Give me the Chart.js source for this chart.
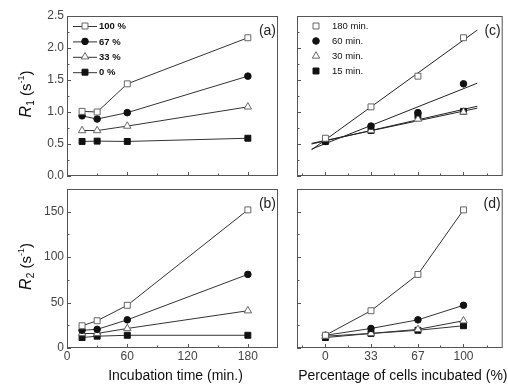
<!DOCTYPE html>
<html lang="en">
<head>
<meta charset="UTF-8">
<title>R1 / R2 vs incubation</title>
<script src="https://cdn.jsdelivr.net/npm/chart.js"></script>
<style>
  body { margin: 0; background: #fff; }
  #wrap { position: relative; width: 508px; height: 384px; }
  #wrap canvas { position: absolute; left: 0; top: 0; }
</style>
</head>
<body>
<div id="wrap">
  <canvas id="chartA" width="508" height="384"></canvas>
  <canvas id="chartB" width="508" height="384"></canvas>
  <canvas id="chartC" width="508" height="384"></canvas>
  <canvas id="chartD" width="508" height="384"></canvas>
</div>
<script>
// ---- data ----
var times = [15, 30, 60, 180];          // incubation time (min.)
var percents = [0, 33, 67, 100];        // percentage of cells incubated
var pctLabels = ['100 %', '67 %', '33 %', '0 %'];
var timeLabels = ['180 min.', '60 min.', '30 min.', '15 min.'];

// R1 (s-1) vs time, one array per percentage
var r1Pct100 = [1.01, 1.00, 1.44, 2.16];
var r1Pct67 = [0.94, 0.89, 0.99, 1.56];
var r1Pct33 = [0.71, 0.71, 0.78, 1.08];
var r1Pct0 = [0.54, 0.545, 0.54, 0.59];

// R2 (s-1) vs time, one array per percentage
var r2Pct100 = [24.5, 30, 47, 152];
var r2Pct67 = [19.5, 20.5, 31, 81];
var r2Pct33 = [16, 16, 21.5, 41];
var r2Pct0 = [11.5, 13, 14, 14];

// linear fits drawn in panel (c), ends
var fitRange = [-10, 110];
var r1Fit180 = [0.41, 2.28];
var r1Fit60 = [0.42, 1.45];
var r1Fit30 = [0.51, 1.06];
var r1Fit15 = [0.50, 1.09];

// tick labels
var timeTicks = [0, 60, 120, 180];
var pctTicks = [0, 33, 67, 100];
var r1Ticks = [0, 0.5, 1, 1.5, 2, 2.5];
var r2Ticks = [0, 50, 100, 150];
var timeMinor = [30, 90, 150];
var pctMinor = [-16.7, 16.7, 50, 83.3, 116.7];
var r1Minor = [0.25, 0.75, 1.25, 1.75, 2.25];
var r2Minor = [25, 75, 125];

// ---- styles ----
var FAM = '"Liberation Sans", Arial, sans-serif';
Chart.defaults.font.family = FAM;
var markers = [
  { shape: 'rect', r: 4.2, fill: '#fff', stroke: '#666' },
  { shape: 'circle', r: 3.3, fill: '#111', stroke: '#111' },
  { shape: 'triangle', r: 4.3, fill: '#fff', stroke: '#666' },
  { shape: 'rect', r: 4.2, fill: '#111', stroke: '#111' }
];

function pts(xs, ys) {
  return xs.map(function (x, i) { return { x: x, y: ys[i] }; });
}
// one column of the time x percent table, ordered by percentage
function column(rows, j) {
  return rows.map(function (r) { return r[j]; });
}

function seriesSet(label, xs, ys, k, showLine) {
  var m = markers[k];
  return {
    label: label, data: pts(xs, ys), showLine: showLine,
    borderColor: '#333', borderWidth: 1, tension: 0,
    pointStyle: m.shape, pointRadius: m.r, pointHoverRadius: m.r,
    pointBackgroundColor: m.fill, pointBorderColor: m.stroke, pointBorderWidth: 1
  };
}
function fitSet(ys) {
  return {
    label: '', isFit: true, data: pts(fitRange, ys), showLine: true,
    borderColor: '#222', borderWidth: 1, pointRadius: 0
  };
}

function drawMarker(ctx, m, x, y) {
  ctx.save();
  ctx.fillStyle = m.fill; ctx.strokeStyle = m.stroke; ctx.lineWidth = 1;
  ctx.beginPath();
  if (m.shape === 'rect') {
    var h = m.r * Math.SQRT1_2;
    ctx.rect(x - h, y - h, 2 * h, 2 * h);
  } else if (m.shape === 'circle') {
    ctx.arc(x, y, m.r, 0, Math.PI * 2);
  } else {
    for (var k = 0; k < 3; k++) {
      var ang = k * 2 * Math.PI / 3;
      var px = x + Math.sin(ang) * m.r, py = y - Math.cos(ang) * m.r;
      if (k) ctx.lineTo(px, py); else ctx.moveTo(px, py);
    }
    ctx.closePath();
  }
  ctx.fill(); ctx.stroke();
  ctx.restore();
}

function drawYTitle(ctx, sub, cx, cy) {
  ctx.save();
  ctx.translate(cx, cy);
  ctx.rotate(-Math.PI / 2);
  ctx.fillStyle = '#111';
  ctx.textBaseline = 'alphabetic';
  ctx.textAlign = 'left';
  var parts = [
    ['italic 16px ' + FAM, 'R', 0],
    ['10px ' + FAM, sub, 3],
    ['15px ' + FAM, ' (s', 0],
    ['9px ' + FAM, '-1', -7],
    ['15px ' + FAM, ')', 0]
  ];
  var w = 0;
  parts.forEach(function (p) { ctx.font = p[0]; p.push(ctx.measureText(p[1]).width); w += p[3]; });
  var x = -w / 2;
  parts.forEach(function (p) { ctx.font = p[0]; ctx.fillText(p[1], x, 5 + p[2]); x += p[3]; });
  ctx.restore();
}

// frame, inward ticks, panel letter, titles and legend
function makeDeco(cfg) {
  return {
    id: 'deco',
    afterDraw: function (chart) {
      var ctx = chart.ctx, a = chart.chartArea;
      var xs = chart.scales.x, ys = chart.scales.y;
      ctx.save();
      ctx.strokeStyle = '#555';
      ctx.lineWidth = 1;
      ctx.strokeRect(a.left + 0.5, a.top + 0.5, a.right - a.left - 1, a.bottom - a.top - 1);
      ctx.beginPath();
      function xt(list, len) {
        list.forEach(function (v) {
          var p = Math.round(xs.getPixelForValue(v)) + 0.5;
          ctx.moveTo(p, a.bottom); ctx.lineTo(p, a.bottom - len);
        });
      }
      function yt(list, len) {
        list.forEach(function (v) {
          var p = Math.round(ys.getPixelForValue(v)) + 0.5;
          ctx.moveTo(a.left, p); ctx.lineTo(a.left + len, p);
        });
      }
      xt(cfg.xMajor, 4); xt(cfg.xMinor, 2.5);
      yt(cfg.yMajor, 4); yt(cfg.yMinor, 2.5);
      ctx.stroke();

      ctx.fillStyle = '#222';
      ctx.font = '14px ' + FAM;
      ctx.textAlign = 'right';
      ctx.textBaseline = 'middle';
      ctx.fillText(cfg.tag, a.right - 2, a.top + 15);

      if (cfg.xTitle) {
        ctx.fillStyle = '#111';
        ctx.textAlign = 'center';
        ctx.textBaseline = 'middle';
        ctx.font = '14px ' + FAM;
        ctx.fillText(cfg.xTitle, (a.left + a.right) / 2 + 3, 376);
      }
      if (cfg.ySub) drawYTitle(ctx, cfg.ySub, 26, (a.top + a.bottom) / 2 - 2);

      if (cfg.legend) {
        var L = cfg.legend, row = 0;
        chart.data.datasets.forEach(function (ds, i) {
          if (ds.isFit) return;
          var y = L.y + row * L.dy;
          var m = markers[i];
          if (L.line) {
            ctx.strokeStyle = '#333';
            ctx.beginPath();
            ctx.moveTo(L.x - 12, y + 0.5); ctx.lineTo(L.x + 12, y + 0.5);
            ctx.stroke();
          }
          drawMarker(ctx, m, L.x, y);
          ctx.fillStyle = '#111';
          ctx.textAlign = 'left';
          ctx.textBaseline = 'middle';
          ctx.font = (L.bold ? 'bold ' : '') + '9.5px ' + FAM;
          ctx.fillText(ds.label, L.textX, y + 0.5);
          row++;
        });
      }
      ctx.restore();
    }
  };
}

function panel(id, c) {
  return new Chart(document.getElementById(id), {
    type: 'scatter',
    data: { datasets: c.datasets },
    options: {
      responsive: false,
      animation: false,
      events: [],
      layout: { padding: c.padding },
      plugins: { legend: { display: false }, tooltip: { enabled: false } },
      scales: {
        x: {
          type: 'linear', min: c.xMin, max: c.xMax,
          grid: { display: false, drawTicks: false }, border: { display: false },
          ticks: { display: c.xLabels, padding: 1, color: '#444', font: { size: 12 } },
          afterBuildTicks: function (s) { s.ticks = c.xMajor.map(function (v) { return { value: v }; }); },
          afterFit: function (s) { s.height = c.xLabels ? 20 : 0; }
        },
        y: {
          type: 'linear', min: c.yMin, max: c.yMax,
          grid: { display: false, drawTicks: false }, border: { display: false },
          ticks: {
            display: c.yLabels, padding: 3, color: '#444', font: { size: 12 },
            callback: c.yFmt || function (v) { return v; }
          },
          afterBuildTicks: function (s) { s.ticks = c.yMajor.map(function (v) { return { value: v }; }); },
          afterFit: function (s) { s.width = c.yLabels ? 67 : 0; }
        }
      }
    },
    plugins: [makeDeco(c)]
  });
}

var r1Rows = [r1Pct0, r1Pct33, r1Pct67, r1Pct100];
var r2Rows = [r2Pct0, r2Pct33, r2Pct67, r2Pct100];

// (a) R1 vs incubation time
panel('chartA', {
  datasets: [
    seriesSet(pctLabels[0], times, r1Pct100, 0, true),
    seriesSet(pctLabels[1], times, r1Pct67, 1, true),
    seriesSet(pctLabels[2], times, r1Pct33, 2, true),
    seriesSet(pctLabels[3], times, r1Pct0, 3, true)
  ],
  padding: { left: 0, top: 16, right: 230, bottom: 208 },
  xMin: 0, xMax: 210, yMin: 0, yMax: 2.5,
  xMajor: timeTicks, xMinor: timeMinor, yMajor: r1Ticks, yMinor: r1Minor,
  xLabels: false, yLabels: true,
  yFmt: function (v) { return Number(v).toFixed(1); },
  tag: '(a)', ySub: '1',
  legend: { x: 85, y: 26, dy: 15.4, textX: 99, line: true, bold: true }
});

// (b) R2 vs incubation time
panel('chartB', {
  datasets: [
    seriesSet(pctLabels[0], times, r2Pct100, 0, true),
    seriesSet(pctLabels[1], times, r2Pct67, 1, true),
    seriesSet(pctLabels[2], times, r2Pct33, 2, true),
    seriesSet(pctLabels[3], times, r2Pct0, 3, true)
  ],
  padding: { left: 0, top: 189, right: 230, bottom: 16 },
  xMin: 0, xMax: 210, yMin: 0, yMax: 175,
  xMajor: timeTicks, xMinor: timeMinor, yMajor: r2Ticks, yMinor: r2Minor,
  xLabels: true, yLabels: true,
  tag: '(b)', ySub: '2', xTitle: 'Incubation time (min.)'
});

// (c) R1 vs percentage of cells, markers + linear fits
panel('chartC', {
  datasets: [
    seriesSet(timeLabels[0], percents, column(r1Rows, 3), 0, false),
    seriesSet(timeLabels[1], percents, column(r1Rows, 2), 1, false),
    seriesSet(timeLabels[2], percents, column(r1Rows, 1), 2, false),
    seriesSet(timeLabels[3], percents, column(r1Rows, 0), 3, false),
    fitSet(r1Fit180), fitSet(r1Fit60), fitSet(r1Fit30), fitSet(r1Fit15)
  ],
  padding: { left: 297, top: 16, right: 1, bottom: 208 },
  xMin: -20.6, xMax: 128.4, yMin: 0, yMax: 2.5,
  xMajor: pctTicks, xMinor: pctMinor, yMajor: r1Ticks, yMinor: r1Minor,
  xLabels: false, yLabels: false,
  tag: '(c)',
  legend: { x: 316, y: 26, dy: 15, textX: 332, line: false, bold: false }
});

// (d) R2 vs percentage of cells
panel('chartD', {
  datasets: [
    seriesSet(timeLabels[0], percents, column(r2Rows, 3), 0, true),
    seriesSet(timeLabels[1], percents, column(r2Rows, 2), 1, true),
    seriesSet(timeLabels[2], percents, column(r2Rows, 1), 2, true),
    seriesSet(timeLabels[3], percents, column(r2Rows, 0), 3, true)
  ],
  padding: { left: 297, top: 189, right: 1, bottom: 16 },
  xMin: -20.6, xMax: 128.4, yMin: 0, yMax: 175,
  xMajor: pctTicks, xMinor: pctMinor, yMajor: r2Ticks, yMinor: r2Minor,
  xLabels: true, yLabels: false,
  tag: '(d)', xTitle: 'Percentage of cells incubated (%)'
});
</script>
</body>
</html>
